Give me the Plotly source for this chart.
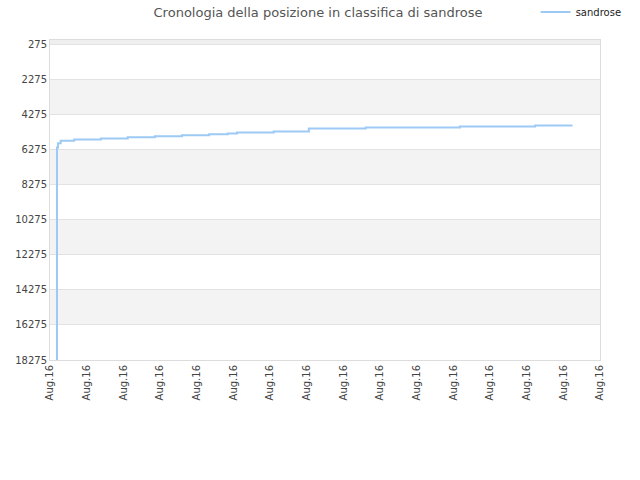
import plotly.graph_objects as go

# position history of sandrose (lower number = better rank)
x_pos = [0.18, 0.19, 0.22, 0.29, 0.66, 1.39, 2.12, 2.86, 3.60, 4.34, 4.85,
         5.10, 6.10, 7.06, 8.61, 11.18, 13.23, 14.25]
rank = [18275, 6144, 5892, 5760, 5686, 5629, 5550, 5492, 5435, 5380, 5343,
        5286, 5229, 5058, 5000, 4943, 4886, 4886]

y_ticks = [275, 2275, 4275, 6275, 8275, 10275, 12275, 14275, 16275, 18275]
y_labels = [str(v) for v in y_ticks]
x_ticks = list(range(16))
x_labels = ["Aug.16"] * 16

fig = go.Figure()

fig.add_trace(go.Scatter(
    x=x_pos, y=rank, mode="lines", name="sandrose",
    line=dict(color="#9ccaf5", width=2, shape="hv"),
))

# alternating grey bands between the ticks
shapes = [dict(type="rect", xref="paper", yref="y", x0=0, x1=1, y0=0, y1=y_ticks[0],
               fillcolor="#efefef", line_width=0, layer="below")]
for i in range(1, len(y_ticks) - 1, 2):
    shapes.append(dict(type="rect", xref="paper", yref="y", x0=0, x1=1,
                       y0=y_ticks[i], y1=y_ticks[i + 1],
                       fillcolor="#f3f3f3", line_width=0, layer="below"))

fig.update_layout(
    width=640, height=480,
    margin=dict(l=50, r=40, t=40, b=120, autoexpand=False),
    paper_bgcolor="white", plot_bgcolor="white",
    font=dict(family="DejaVu Sans", size=11, color="#444"),
    title=dict(text="Cronologia della posizione in classifica di sandrose",
               x=0.497, xanchor="center", y=0.975, yanchor="middle",
               font=dict(size=13, color="#555")),
    showlegend=True,
    legend=dict(x=0.883, xanchor="left", y=1.0875, yanchor="middle",
                itemwidth=30, font=dict(size=10, color="#222"),
                bgcolor="rgba(0,0,0,0)"),
    shapes=shapes,
)

fig.update_xaxes(range=[0, 15], tickvals=x_ticks, ticktext=x_labels, tickangle=-90,
                 showgrid=False, zeroline=False, showline=True, linecolor="#dcdcdc",
                 mirror=True, ticks="", tickfont=dict(size=10, color="#444"))
fig.update_yaxes(range=[18275, 0], tickvals=y_ticks, ticktext=y_labels, showgrid=True,
                 gridcolor="#e2e2e2", zeroline=False, showline=True, linecolor="#dcdcdc",
                 mirror=True, ticks="", tickfont=dict(size=10, color="#444"))

# drop the browser's default body margin so the figure fills the window
fig.write_html("out.html", config={"displayModeBar": False},
               post_script="document.body.style.margin='0';")
